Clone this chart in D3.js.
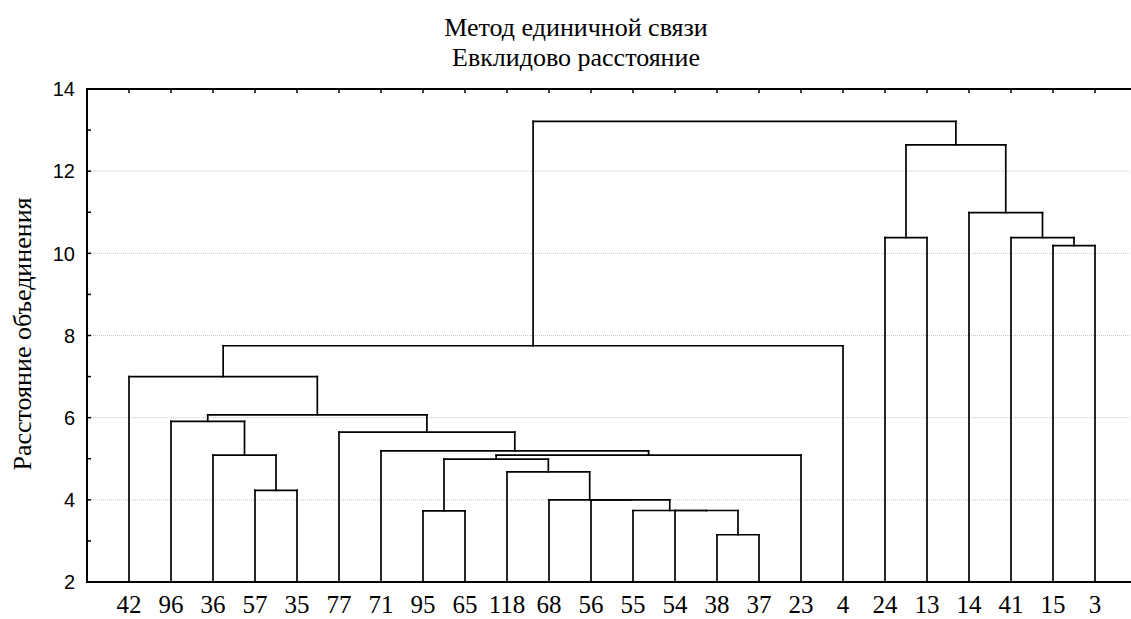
<!DOCTYPE html>
<html>
<head>
<meta charset="utf-8">
<script src="https://cdn.jsdelivr.net/npm/d3@7"></script>
<style>
  html, body { margin: 0; padding: 0; background: #fff; }
  svg { display: block; }
</style>
</head>
<body>
<svg id="chart" width="1131" height="619"></svg>
<script>
// ---- Data ----
const titleLines = ["Метод единичной связи", "Евклидово расстояние"];
const yAxisLabel = "Расстояние объединения";
const leaves = ["42","96","36","57","35","77","71","95","65","118","68","56","55","54","38","37","23","4","24","13","14","41","15","3"];
// linkage: each merge joins mergeA and mergeB ("cN" = result of merge N) at mergeHeight
const mergeA = ["38","54","55","95","56","68","118","c3","c7","71","77","57","36","96","c13","42","c15","24","15","41","14","c17","c16"];
const mergeB = ["37","c0","c1","65","c2","c4","c5","c6","23","c8","c9","35","c11","c12","c10","c14","4","13","3","c18","c19","c20","c21"];
const mergeHeight = [3.15,3.74,3.74,3.73,4.00,4.00,4.68,4.99,5.09,5.19,5.65,4.23,5.09,5.91,6.07,7.00,7.75,10.38,10.19,10.38,10.99,12.64,13.21];
const yTicksMajor = [2,4,6,8,10,12,14];
const yTicksMinor = [3,5,7,9,11,13];
const yDomain = [2,14];

// ---- Layout ----
const svg = d3.select("#chart");
const L = 87, R = 1137, T = 89, B = 582;
const x = d3.scalePoint().domain(leaves).range([L, R]).padding(1);
const y = d3.scaleLinear().domain(yDomain).range([B, T]);

const serif = "'Liberation Serif','Times New Roman',Times,serif";
const sans = "'Liberation Sans',Arial,Helvetica,sans-serif";

// grid
svg.append("g").selectAll("line").data(yTicksMajor.filter(d => d > yDomain[0] && d < yDomain[1]))
  .join("line")
  .attr("x1", L).attr("x2", R)
  .attr("y1", d => y(d)).attr("y2", d => y(d))
  .attr("stroke", "#c8c8c8").attr("stroke-width", 1).attr("stroke-dasharray", "1,1");

// compute node positions
const nodeX = {}, nodeH = {};
leaves.forEach(l => { nodeX[l] = x(l); nodeH[l] = yDomain[0]; });
const segs = [];
mergeA.forEach((a, i) => {
  const b = mergeB[i], h = mergeHeight[i];
  const xa = nodeX[a], xb = nodeX[b];
  segs.push([xa, y(nodeH[a]), xa, y(h)]);
  segs.push([xb, y(nodeH[b]), xb, y(h)]);
  segs.push([xa, y(h), xb, y(h)]);
  nodeX["c" + i] = (xa + xb) / 2;
  nodeH["c" + i] = h;
});

svg.append("g").selectAll("line").data(segs).join("line")
  .attr("x1", d => d[0]).attr("y1", d => d[1])
  .attr("x2", d => d[2]).attr("y2", d => d[3])
  .attr("stroke", "#000").attr("stroke-width", 1.7).attr("stroke-linecap", "square");

// frame
svg.append("rect").attr("x", L).attr("y", T).attr("width", R - L).attr("height", B - T)
  .attr("fill", "none").attr("stroke", "#000").attr("stroke-width", 2);

// left axis ticks (inward) and labels
svg.append("g").selectAll("line").data(yTicksMajor.concat(yTicksMinor)).join("line")
  .attr("x1", L).attr("x2", L + 4)
  .attr("y1", d => y(d)).attr("y2", d => y(d))
  .attr("stroke", "#000").attr("stroke-width", 1.5);
svg.append("g").selectAll("text").data(yTicksMajor).join("text")
  .attr("x", 75).attr("y", d => y(d)).attr("dy", "0.36em")
  .attr("text-anchor", "end")
  .attr("font-family", sans).attr("font-size", 20)
  .text(d => d);

// top ticks (inward) at leaves
svg.append("g").selectAll("line").data(leaves).join("line")
  .attr("x1", d => x(d)).attr("x2", d => x(d))
  .attr("y1", T).attr("y2", T + 4)
  .attr("stroke", "#000").attr("stroke-width", 1.5);

// leaf labels
svg.append("g").selectAll("text").data(leaves).join("text")
  .attr("x", d => x(d)).attr("y", 613)
  .attr("text-anchor", "middle")
  .attr("font-family", serif).attr("font-size", 25)
  .text(d => d);

// title
svg.append("g").selectAll("text").data(titleLines).join("text")
  .attr("x", 576).attr("y", (d, i) => 36 + i * 30)
  .attr("text-anchor", "middle")
  .attr("font-family", serif).attr("font-size", 26)
  .text(d => d);

// y axis label
svg.append("text")
  .attr("transform", "translate(31,334) rotate(-90)")
  .attr("text-anchor", "middle")
  .attr("font-family", serif).attr("font-size", 26)
  .text(yAxisLabel);
</script>
</body>
</html>
